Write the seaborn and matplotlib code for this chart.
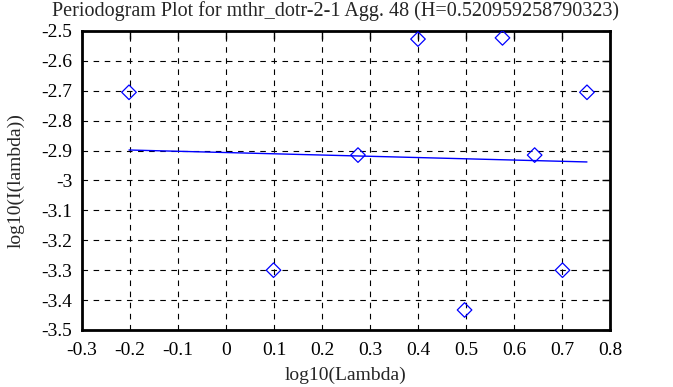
import numpy as np
import pandas as pd
import seaborn as sns
import matplotlib
matplotlib.use("Agg")
import matplotlib.pyplot as plt

# periodogram points
log_lambda = [-0.202, 0.099, 0.275, 0.400, 0.497, 0.576, 0.643, 0.701, 0.752]
log_I = [-2.705, -3.300, -2.915, -2.527, -3.433, -2.523, -2.915, -3.300, -2.705]

# fitted line end points
fit_x = [-0.202, 0.752]
fit_y = [-2.898, -2.938]

title = "Periodogram Plot for mthr_dotr-2-1 Agg. 48 (H=0.520959258790323)"

df = pd.DataFrame({"x": log_lambda, "y": log_I})
fit = pd.DataFrame({"x": fit_x, "y": fit_y})

sns.set_style("white")
plt.rcParams["font.family"] = ["Liberation Serif", "DejaVu Serif"]

fig = plt.figure(figsize=(6.73, 3.87), dpi=100)
ax = fig.add_axes([0.1218, 0.1473, 0.7846, 0.7726])

sns.lineplot(data=fit, x="x", y="y", ax=ax, color="blue", linewidth=1.0)
sns.scatterplot(data=df, x="x", y="y", ax=ax, marker="D", s=55,
                facecolor="none", edgecolor="blue", linewidth=0.9, zorder=3)

ax.set_xlim(-0.3, 0.8)
ax.set_ylim(-3.5, -2.5)
ax.set_xticks(np.round(np.arange(-0.3, 0.81, 0.1), 1))
ax.set_yticks(np.round(np.arange(-3.5, -2.49, 0.1), 1))
ax.set_xticklabels(["-0.3", "-0.2", "-0.1", "0", "0.1", "0.2", "0.3", "0.4", "0.5", "0.6", "0.7", "0.8"])
ax.set_yticklabels(["-3.5", "-3.4", "-3.3", "-3.2", "-3.1", "-3", "-2.9", "-2.8", "-2.7", "-2.6", "-2.5"])
ax.grid(True, color="black", linestyle=(0, (5, 5)), linewidth=0.8)
ax.tick_params(direction="in", length=6, width=1, top=True, right=True,
               labelsize=14, colors="black")
ax.tick_params(axis="x", pad=9)
ax.tick_params(axis="y", pad=7)
for sp in ax.spines.values():
    sp.set_linewidth(2)
    sp.set_color("black")

ax.set_xlabel("log10(Lambda)", fontsize=14, labelpad=5)
ax.set_ylabel("log10(I(lambda))", fontsize=14, labelpad=12)
# title is centred on the figure, not on the axes
ax.set_title(title, fontsize=14.5, pad=11, x=0.481)

fig.savefig("out.png", dpi=100)
